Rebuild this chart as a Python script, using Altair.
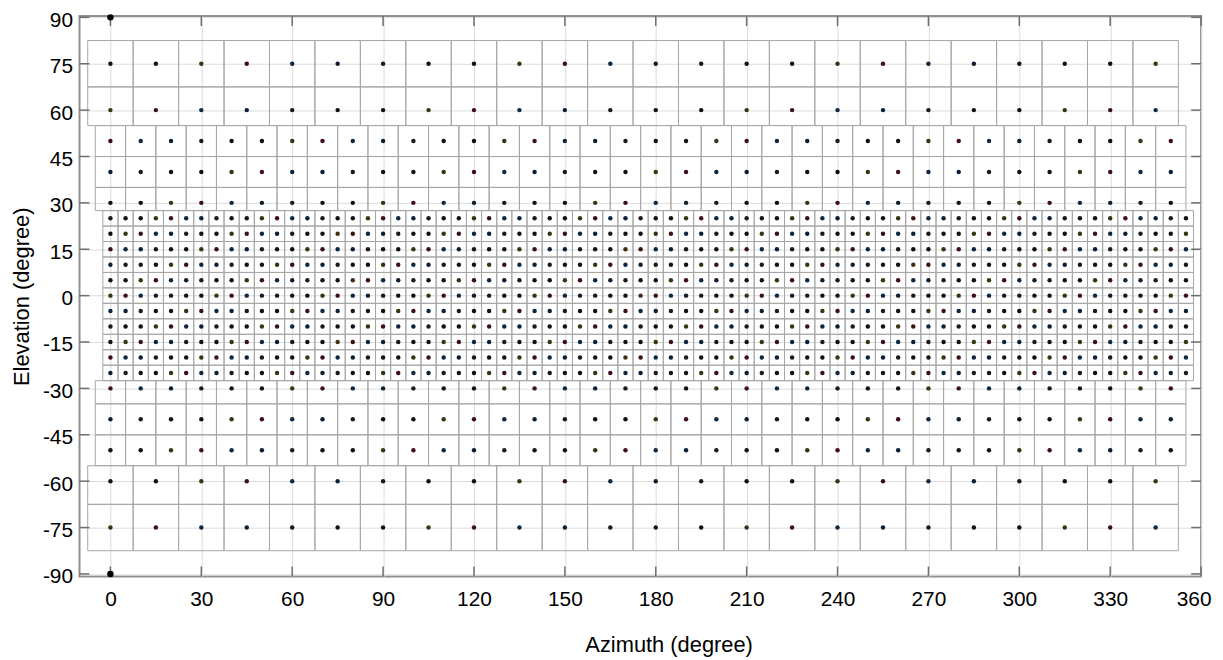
import altair as alt
import pandas as pd

# ---- axis ticks ----
AZ_TICKS = list(range(0, 361, 30))
EL_TICKS = list(range(-90, 91, 15))

# ---- sampling bands: elevation rows, cell edges (deg), azimuth step (deg) ----
top_rows = [75, 60]
top_edges = [82.5, 67.5, 55]
top_step = 15

upper_rows = [50, 40, 30]
upper_edges = [55, 45, 35, 27.5]
upper_step = 10

mid_rows = [25, 20, 15, 10, 5, 0, -5, -10, -15, -20, -25]
mid_edges = [27.5, 22.5, 17.5, 12.5, 7.5, 2.5, -2.5, -7.5, -12.5, -17.5, -22.5, -27.5]
mid_step = 5

lower_rows = [-30, -40, -50]
lower_edges = [-27.5, -35, -45, -55]
lower_step = 10

bottom_rows = [-60, -75]
bottom_edges = [-55, -67.5, -82.5]
bottom_step = 15

pole_el = [90, -90]
pole_az = [0, 0]

# dot tints seen in the picture (mostly black, some navy / maroon / olive)
DOT_COLORS = ["#111111", "#0f2842", "#111111", "#3e0f1a", "#1a1a1a", "#3a3414", "#0c1f33"]

bands = [
    (top_rows, top_edges, top_step),
    (upper_rows, upper_edges, upper_step),
    (mid_rows, mid_edges, mid_step),
    (lower_rows, lower_edges, lower_step),
    (bottom_rows, bottom_edges, bottom_step),
]

cells, dots = [], []
for rows, edges, step in bands:
    for i, el in enumerate(rows):
        for j, az in enumerate(range(0, 360, step)):
            cells.append({"az": az - step / 2, "az2": az + step / 2,
                          "el": edges[i], "el2": edges[i + 1]})
            dots.append({"az": az, "el": el,
                         "col": DOT_COLORS[(3 * i + 5 * j + len(rows)) % len(DOT_COLORS)]})

cells_df = pd.DataFrame(cells)
dots_df = pd.DataFrame(dots)
poles_df = pd.DataFrame({"az": pole_az, "el": pole_el})
az_df = pd.DataFrame({"az": AZ_TICKS})
el_df = pd.DataFrame({"el": EL_TICKS})

W, H = 1129, 564
FONT = "Liberation Sans"
xscale = alt.Scale(domain=[-10.2, 360], nice=False, zero=False)
yscale = alt.Scale(domain=[-90.8, 90.4], nice=False, zero=False)

xaxis = alt.Axis(values=AZ_TICKS, grid=True, gridColor="#dcdcdc", gridWidth=1,
                 ticks=False, tickSize=0, domain=False, labelFont=FONT, labelFontSize=21,
                 labelColor="#000", labelPadding=12, labelOverlap=False, labelFlush=True,
                 labelFlushOffset=10, labelExpr="'' + datum.value",
                 title="Azimuth (degree)", titleFont=FONT, titleFontSize=22,
                 titleFontWeight="normal", titleColor="#000",
                 titleX=593, titleY=76, titleBaseline="alphabetic", titleAlign="center")
yaxis = alt.Axis(values=EL_TICKS, grid=True, gridColor="#dcdcdc", gridWidth=1,
                 ticks=False, tickSize=0, domain=False, labelFont=FONT, labelFontSize=21,
                 labelColor="#000", labelPadding=7, labelOverlap=False, labelFlush=False,
                 labelOffset=3, labelExpr="'' + datum.value",
                 title="Elevation (degree)", titleFont=FONT, titleFontSize=22,
                 titleFontWeight="normal", titleColor="#000",
                 titleX=-51, titleY=H / 2, titleBaseline="alphabetic", titleAlign="center",
                 titleAngle=270)

X = lambda f="az": alt.X(f"{f}:Q", scale=xscale, axis=xaxis)
Y = lambda f="el": alt.Y(f"{f}:Q", scale=yscale, axis=yaxis)

cell_layer = alt.Chart(cells_df).mark_rect(
    fillOpacity=0, stroke="#a6a6a6", strokeWidth=1
).encode(x=X(), x2="az2:Q", y=Y(), y2="el2:Q")

dot_layer = alt.Chart(dots_df).mark_circle(size=20, opacity=1).encode(
    x=X(), y=Y(), color=alt.Color("col:N", scale=None, legend=None))

pole_layer = alt.Chart(poles_df).mark_circle(size=42, opacity=1, color="#000", clip=False).encode(
    x=X(), y=Y())

TICK_COL = "#6e6e6e"
top_ticks = alt.Chart(az_df).mark_rule(color=TICK_COL, strokeWidth=1.5).encode(
    x=X(), y=alt.value(0), y2=alt.value(10))
bot_ticks = alt.Chart(az_df).mark_rule(color=TICK_COL, strokeWidth=1.5).encode(
    x=X(), y=alt.value(H), y2=alt.value(H - 10))
left_ticks = alt.Chart(el_df).mark_rule(color=TICK_COL, strokeWidth=1.5).encode(
    y=Y(), x=alt.value(0), x2=alt.value(10))
right_ticks = alt.Chart(el_df).mark_rule(color=TICK_COL, strokeWidth=1.5).encode(
    y=Y(), x=alt.value(W), x2=alt.value(W - 10))

chart = alt.layer(
    cell_layer, top_ticks, bot_ticks, left_ticks, right_ticks, dot_layer, pole_layer
).properties(
    width=W, height=H,
    autosize=alt.AutoSizeParams(type="none"),
    padding={"left": 72, "top": 6, "right": 14, "bottom": 82},
    background="white",
).configure_view(
    stroke="#8f8f8f", strokeWidth=2
)

chart.save("out.html", embed_options={"renderer": "svg", "actions": False})
